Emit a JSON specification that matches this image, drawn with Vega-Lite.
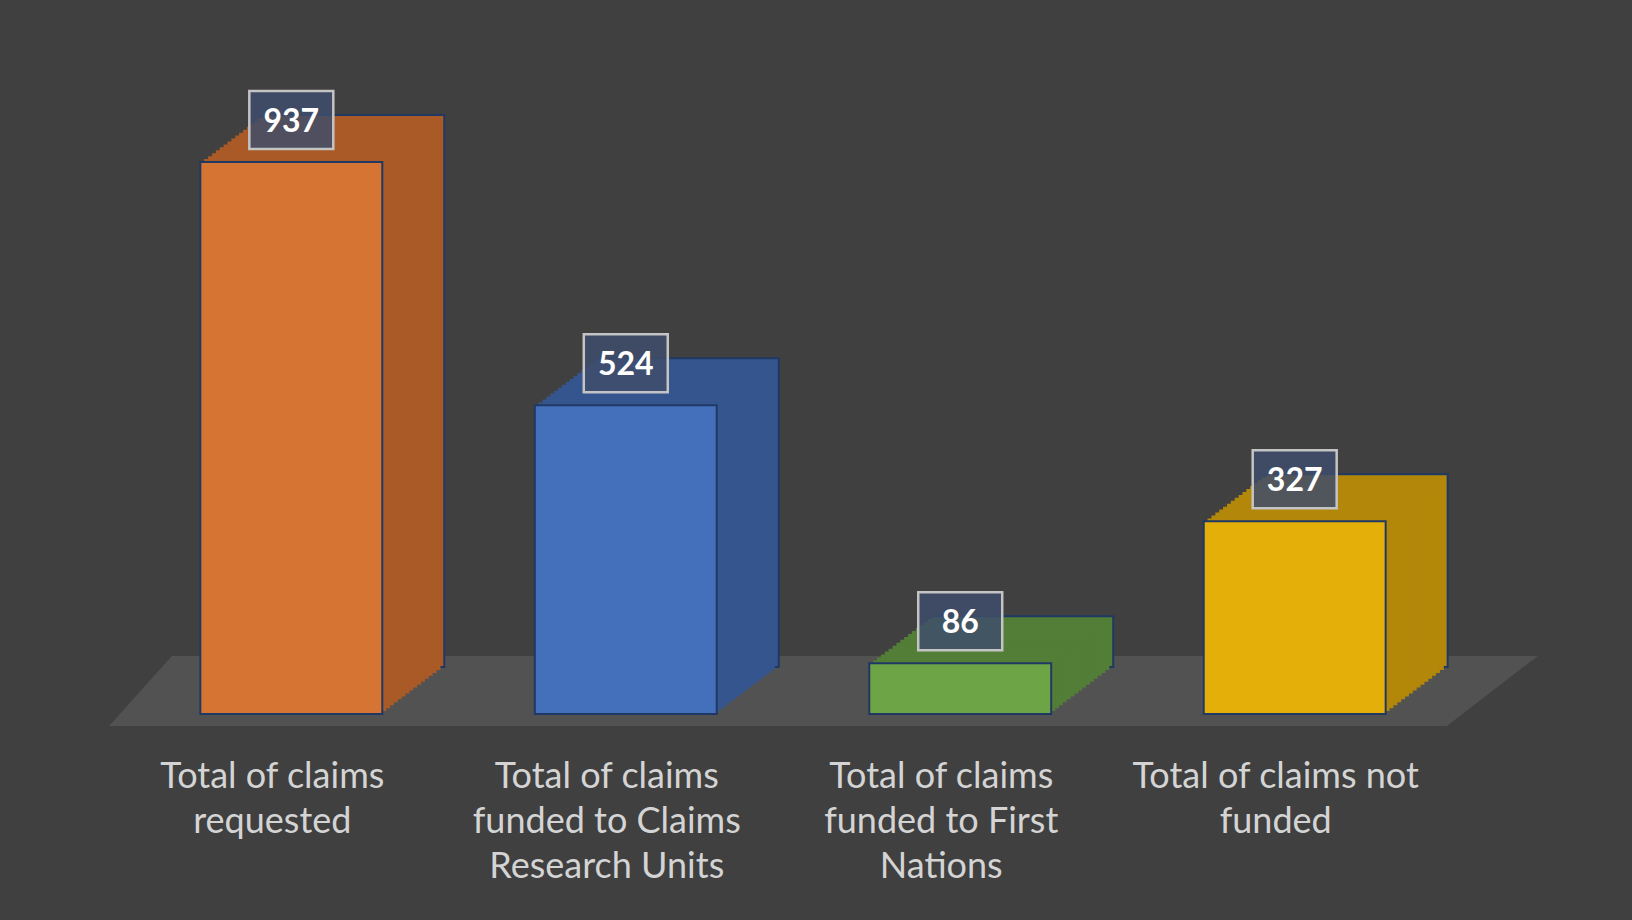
{
  "$schema": "https://vega.github.io/schema/vega-lite/v6.json",
  "width": 1386,
  "height": 648,
  "autosize": {"type": "none"},
  "padding": {"left": 100, "top": 66, "right": 146, "bottom": 206},
  "background": "#404040",
  "config": {"view": {"stroke": null}},
  "datasets": {
    "bars": [
      {"cat": "Total of claims|requested", "value": 937},
      {"cat": "Total of claims|funded to Claims|Research Units", "value": 524},
      {"cat": "Total of claims|funded to First|Nations", "value": 86},
      {"cat": "Total of claims not|funded", "value": 327}
    ],
    "floor": [
      {"fx": 0.027, "fy": -20.4, "fy2": -20.4},
      {"fx": 0.215, "fy": 98.5, "fy2": -20.4},
      {"fx": 4.027, "fy": 98.5, "fy2": -20.4},
      {"fx": 4.299, "fy": 98.5, "fy2": 98.5}
    ]
  },
  "layer": [
    {
      "data": {"name": "floor"},
      "mark": {"type": "area", "color": "#535253"},
      "encoding": {
        "x": {"field": "fx", "type": "quantitative", "scale": {"domain": [0, 4.144], "nice": false, "zero": false}, "axis": null},
        "y": {"field": "fy", "type": "quantitative", "scale": {"domain": [0, 1100], "nice": false}, "axis": null},
        "y2": {"field": "fy2"}
      }
    },
    {
      "data": {"name": "bars"},
      "encoding": {
        "x": {"field": "cat", "type": "nominal", "sort": null, "scale": {"paddingInner": 0.456, "paddingOuter": 0.3}, "axis": null},
        "y": {"field": "value", "type": "quantitative", "scale": {"domain": [0, 1100], "nice": false}, "axis": null},
        "y2": {"datum": 0},
        "color": {"field": "cat", "type": "nominal", "sort": null, "legend": null,
          "scale": {"range": ["#A95A26", "#35558E", "#527E37", "#B3880A"]}}
      },
      "layer": [
        {"mark": {"type": "bar", "xOffset": 62, "yOffset": -47, "y2Offset": -47, "stroke": "#203864", "strokeWidth": 2}},
        {"mark": {"type": "bar", "xOffset": 58.125, "yOffset": -44.0625, "y2Offset": -44.0625}},
        {"mark": {"type": "bar", "xOffset": 54.25, "yOffset": -41.125, "y2Offset": -41.125}},
        {"mark": {"type": "bar", "xOffset": 50.375, "yOffset": -38.1875, "y2Offset": -38.1875}},
        {"mark": {"type": "bar", "xOffset": 46.5, "yOffset": -35.25, "y2Offset": -35.25}},
        {"mark": {"type": "bar", "xOffset": 42.625, "yOffset": -32.3125, "y2Offset": -32.3125}},
        {"mark": {"type": "bar", "xOffset": 38.75, "yOffset": -29.375, "y2Offset": -29.375}},
        {"mark": {"type": "bar", "xOffset": 34.875, "yOffset": -26.4375, "y2Offset": -26.4375}},
        {"mark": {"type": "bar", "xOffset": 31, "yOffset": -23.5, "y2Offset": -23.5}},
        {"mark": {"type": "bar", "xOffset": 27.125, "yOffset": -20.5625, "y2Offset": -20.5625}},
        {"mark": {"type": "bar", "xOffset": 23.25, "yOffset": -17.625, "y2Offset": -17.625}},
        {"mark": {"type": "bar", "xOffset": 19.375, "yOffset": -14.6875, "y2Offset": -14.6875}},
        {"mark": {"type": "bar", "xOffset": 15.5, "yOffset": -11.75, "y2Offset": -11.75}},
        {"mark": {"type": "bar", "xOffset": 11.625, "yOffset": -8.8125, "y2Offset": -8.8125}},
        {"mark": {"type": "bar", "xOffset": 7.75, "yOffset": -5.875, "y2Offset": -5.875}},
        {"mark": {"type": "bar", "xOffset": 3.875, "yOffset": -2.9375, "y2Offset": -2.9375}}
      ]
    },
    {
      "data": {"name": "bars"},
      "mark": {"type": "bar", "stroke": "#203864", "strokeWidth": 2},
      "encoding": {
        "x": {"field": "cat", "type": "nominal", "sort": null, "scale": {"paddingInner": 0.456, "paddingOuter": 0.3},
          "axis": {"title": null, "domain": false, "ticks": false, "tickSize": 0, "labelAngle": 0,
            "labelExpr": "split(datum.label, '|')", "labelFont": "Lato", "labelFontSize": 36,
            "labelColor": "#d4d4d4", "labelLineHeight": 45, "labelPadding": 45, "labelOffset": -19,
            "labelLimit": 400, "labelBaseline": "top"}},
        "y": {"field": "value", "type": "quantitative", "scale": {"domain": [0, 1100], "nice": false}, "axis": null},
        "y2": {"datum": 0},
        "color": {"field": "cat", "type": "nominal", "sort": null, "legend": null,
          "scale": {"range": ["#D67433", "#4470BB", "#6CA446", "#E5AF0A"]}}
      }
    },
    {
      "data": {"name": "bars"},
      "mark": {"type": "point", "shape": "M-1.448,-1H1.448V1H-1.448Z", "size": 3364, "filled": true,
        "fill": "#3F4D6B", "fillOpacity": 0.85, "stroke": "#c4c4c4", "strokeWidth": 2.5, "opacity": 1, "yOffset": -42},
      "encoding": {
        "x": {"field": "cat", "type": "nominal", "sort": null, "scale": {"type": "band", "paddingInner": 0.456, "paddingOuter": 0.3}, "axis": null},
        "y": {"field": "value", "type": "quantitative", "scale": {"domain": [0, 1100], "nice": false}, "axis": null}
      }
    },
    {
      "data": {"name": "bars"},
      "mark": {"type": "text", "font": "Lato", "fontSize": 32, "fontWeight": "bold", "color": "#ffffff",
        "baseline": "middle", "align": "center", "yOffset": -40},
      "encoding": {
        "x": {"field": "cat", "type": "nominal", "sort": null, "scale": {"type": "band", "paddingInner": 0.456, "paddingOuter": 0.3}, "axis": null},
        "y": {"field": "value", "type": "quantitative", "scale": {"domain": [0, 1100], "nice": false}, "axis": null},
        "text": {"field": "value", "type": "quantitative"}
      }
    }
  ],
  "resolve": {"scale": {"x": "independent", "color": "independent"}}
}
